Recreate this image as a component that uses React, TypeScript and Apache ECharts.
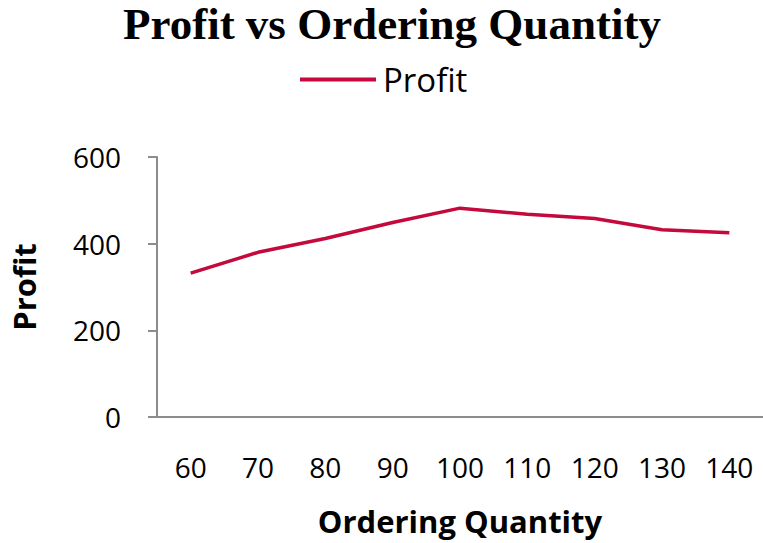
import React, { useEffect, useRef } from "react";
import * as echarts from "echarts";

const categories = ["60", "70", "80", "90", "100", "110", "120", "130", "140"];
const profit = [332, 380, 412, 449, 482, 468, 458, 432, 425];
const yTicks = { min: 0, max: 600, interval: 200 };

export default function App() {
  const ref = useRef<HTMLDivElement>(null);
  useEffect(() => {
    const chart = echarts.init(ref.current!, null, { renderer: "svg" });
    const axisColor = "#8c8c8c";
    const lineColor = "#C4093C";
    chart.setOption({
      animation: false,
      backgroundColor: "#ffffff",
      title: {
        text: "Profit vs Ordering Quantity",
        left: 118,
        top: -4,
        textStyle: {
          fontFamily: "Liberation Serif",
          fontWeight: "bold",
          fontSize: 45,
          color: "#000",
        },
      },
      legend: {
        left: 295,
        top: 58,
        icon: "rect",
        itemWidth: 76,
        itemHeight: 4,
        textStyle: { fontFamily: "Open Sans", fontSize: 33, color: "#000", padding: [0, 0, 0, 2] },
        data: [{ name: "Profit", itemStyle: { color: lineColor } }],
      },
      grid: { left: 140, right: 0, top: 157, bottom: 126, containLabel: false },
      xAxis: {
        type: "category",
        data: categories,
        boundaryGap: true,
        axisLine: { show: true, lineStyle: { color: axisColor, width: 2 } },
        axisTick: { show: false },
        axisLabel: { fontFamily: "Open Sans", fontSize: 28, color: "#000", margin: 36 },
        name: "Ordering Quantity",
        nameLocation: "middle",
        nameGap: 88,
        nameTextStyle: { fontFamily: "Open Sans", fontWeight: "bold", fontSize: 31, color: "#000" },
      },
      yAxis: {
        type: "value",
        min: yTicks.min,
        max: yTicks.max,
        interval: yTicks.interval,
        axisLine: { show: true, lineStyle: { color: axisColor, width: 2 } },
        axisTick: { show: true, inside: false, length: 9, lineStyle: { color: axisColor, width: 2 } },
        splitLine: { show: false },
        axisLabel: { fontFamily: "Open Sans", fontSize: 28, color: "#000", margin: 36 },
        name: "Profit",
        nameLocation: "middle",
        nameGap: 118,
        nameTextStyle: { fontFamily: "Open Sans", fontWeight: "bold", fontSize: 31, color: "#000" },
      },
      series: [
        {
          name: "Profit",
          type: "line",
          data: profit,
          symbol: "none",
          lineStyle: { color: lineColor, width: 3.5 },
          itemStyle: { color: lineColor },
        },
      ],
    });
    return () => chart.dispose();
  }, []);
  return <div ref={ref} style={{ width: 763, height: 543, position: "absolute", left: 0, top: 0 }} />;
}
